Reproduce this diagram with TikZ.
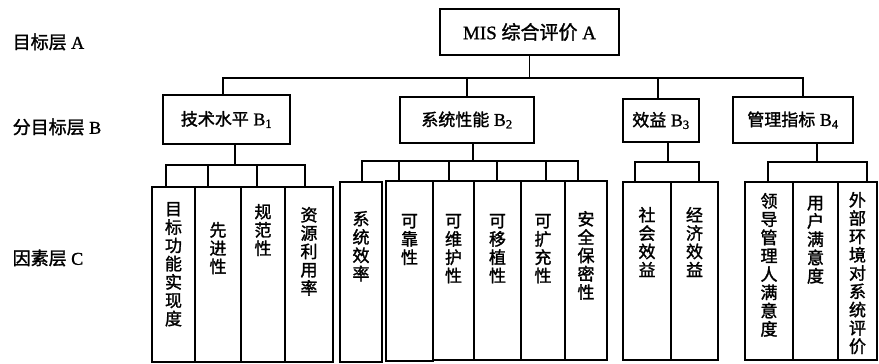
\documentclass[tikz,border=0pt]{standalone}
\usepackage{fontspec}
\setmainfont{Liberation Serif}[FakeBold=1.2]
\newfontfamily\cjk{Noto Sans CJK SC}[FakeBold=1.6]
\begin{document}
\begin{tikzpicture}[x=1pt,y=-1pt,line width=1.4pt,
  bx/.style 2 args={draw,inner sep=0pt,minimum width=#1,minimum height=#2},
  bfont/.style={font=\fontsize{18}{20}\selectfont},
  lbl/.style={anchor=west,inner sep=0pt,font=\fontsize{18}{20}\selectfont},
  vt/.style={anchor=north,inner sep=0pt,align=center,font=\cjk\fontsize{17}{18.3}\selectfont}]
\useasboundingbox (0,0) rectangle (879,364);
% left labels
\node[lbl] (la) at (12,42) {{\cjk 目标层} A};
\node[lbl] (lb) at (12,127) {{\cjk 分目标层} B};
\node[lbl] (lc) at (12,258) {{\cjk 因素层} C};
% A
\node[bx={179}{46},font=\fontsize{19}{21}\selectfont] (A) at (529.5,32) {MIS {\cjk 综合评价} A};
% B
\node[bx={127}{49},bfont] (B1) at (226.5,119.5) {{\cjk\fontsize{17}{20}\selectfont 技术水平} B\textsubscript{1}};
\node[bx={134}{46},bfont] (B2) at (467,120) {{\cjk\fontsize{17}{20}\selectfont 系统性能} B\textsubscript{2}};
\node[bx={76}{43},bfont] (B3) at (661,120.5) {{\cjk\fontsize{17}{20}\selectfont 效益} B\textsubscript{3}};
\node[bx={120}{46},bfont] (B4) at (793,120) {{\cjk\fontsize{17}{20}\selectfont 管理指标} B\textsubscript{4}};
% C boxes
\node[bx={43}{175}] (c1) at (173.5,274.5) {};
\node[bx={46}{175}] (c2) at (218,274.5) {};
\node[bx={44}{175}] (c3) at (263,274.5) {};
\node[bx={48}{175}] (c4) at (309,274.5) {};
\node[bx={42}{180}] (c5) at (361,272) {};
\node[bx={47}{180}] (c6) at (409.5,271) {};
\node[bx={41}{179}] (c7) at (453.5,270.5) {};
\node[bx={47}{179}] (c8) at (497.5,270.5) {};
\node[bx={44}{179}] (c9) at (543,270.5) {};
\node[bx={42}{179}] (c10) at (586,270.5) {};
\node[bx={48}{178}] (c11) at (647,271) {};
\node[bx={47}{178}] (c12) at (694.5,271) {};
\node[bx={48}{178}] (c13) at (769,271) {};
\node[bx={45}{178}] (c14) at (815.5,271) {};
\node[bx={39}{178}] (c15) at (857.5,271) {};
% C texts
\node[vt] (t1) at ([yshift=-15pt]c1.north) {目\\标\\功\\能\\实\\现\\度};
\node[vt] (t2) at ([yshift=-35pt]c2.north) {先\\进\\性};
\node[vt] (t3) at ([yshift=-17pt]c3.north) {规\\范\\性};
\node[vt] (t4) at ([yshift=-20pt]c4.north) {资\\源\\利\\用\\率};
\node[vt] (t5) at ([yshift=-29pt]c5.north) {系\\统\\效\\率};
\node[vt] (t6) at ([yshift=-33pt]c6.north) {可\\靠\\性};
\node[vt] (t7) at ([yshift=-33pt]c7.north) {可\\维\\护\\性};
\node[vt] (t8) at ([yshift=-33pt]c8.north) {可\\移\\植\\性};
\node[vt] (t9) at ([yshift=-33pt]c9.north) {可\\扩\\充\\性};
\node[vt] (t10) at ([yshift=-30pt]c10.north) {安\\全\\保\\密\\性};
\node[vt] (t11) at ([yshift=-25pt]c11.north) {社\\会\\效\\益};
\node[vt] (t12) at ([yshift=-25pt]c12.north) {经\\济\\效\\益};
\node[vt] (t13) at ([yshift=-11pt]c13.north) {领\\导\\管\\理\\人\\满\\意\\度};
\node[vt] (t14) at ([yshift=-14pt]c14.north) {用\\户\\满\\意\\度};
\node[vt] (t15) at ([yshift=-10pt]c15.north) {外\\部\\环\\境\\对\\系\\统\\评\\价};
% A -> B
\coordinate (busA) at (0,78);
\draw (A.south) -- (A.south |- busA);
\draw ([xshift=-3.5pt]B1.north) |- ([xshift=10pt]B4.north |- busA) -- ([xshift=10pt]B4.north);
\draw (B2.north) -- (B2.north |- busA);
\draw ([xshift=-3pt]B3.north) -- ([xshift=-3pt]B3.north |- busA);
% B1 -> C
\coordinate (busB1) at (0,165);
\draw ([xshift=8.5pt]B1.south) -- ([xshift=8.5pt]B1.south |- busB1);
\draw ([xshift=-7.5pt]c1.north) |- ([xshift=-4pt]c4.north |- busB1) -- ([xshift=-4pt]c4.north);
\draw ([xshift=-10pt]c2.north) -- ([xshift=-10pt]c2.north |- busB1);
\draw ([xshift=-6pt]c3.north) -- ([xshift=-6pt]c3.north |- busB1);
% B2 -> C
\coordinate (busB2) at (0,161);
\draw ([xshift=6pt]B2.south) -- ([xshift=6pt]B2.south |- busB2);
\draw ([xshift=1pt]c5.north) |- ([xshift=-8pt]c10.north |- busB2) -- ([xshift=-8pt]c10.north);
\draw ([xshift=-10.5pt]c6.north) -- ([xshift=-10.5pt]c6.north |- busB2);
\draw ([xshift=-4.5pt]c7.north) -- ([xshift=-4.5pt]c7.north |- busB2);
\draw ([xshift=-0.5pt]c8.north) -- ([xshift=-0.5pt]c8.north |- busB2);
\draw ([xshift=3pt]c9.north) -- ([xshift=3pt]c9.north |- busB2);
% B3 -> C
\coordinate (busB3) at (0,162);
\draw ([xshift=7pt]B3.south) -- ([xshift=7pt]B3.south |- busB3);
\draw ([xshift=-12pt]c11.north) |- ([xshift=4.5pt]c12.north |- busB3) -- ([xshift=4.5pt]c12.north);
% B4 -> C
\coordinate (busB4) at (0,162);
\draw ([xshift=24pt]B4.south) -- ([xshift=24pt]B4.south |- busB4);
\draw ([xshift=-1pt]c13.north) |- ([xshift=9.5pt]c15.north |- busB4) -- ([xshift=9.5pt]c15.north);
\end{tikzpicture}
\end{document}
